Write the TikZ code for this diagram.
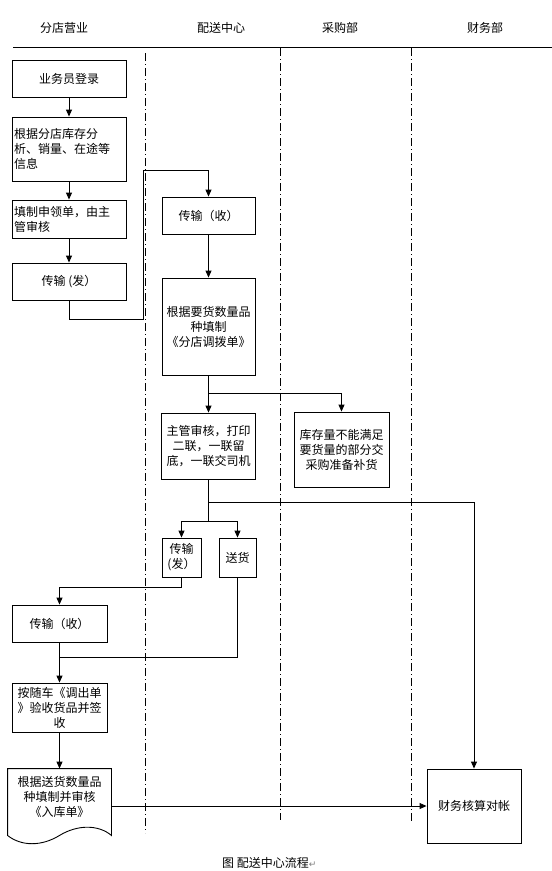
\documentclass[tikz,border=0pt]{standalone}
\usepackage{fontspec}
\setmainfont{Noto Sans CJK SC}
\newfontfamily\symfont{DejaVu Sans}
\usetikzlibrary{arrows.meta, calc}

\begin{document}
\begin{tikzpicture}[
    x=1pt, y=-1pt,
    box/.style={rectangle, draw=black, line width=0.9pt, align=center, inner sep=2pt, font={\fontsize{12}{15}\selectfont}},
    leftbox/.style={box, align=left, text width=110pt},
    arrow/.style={-{Triangle[length=7pt, width=6pt]}, line width=0.9pt},
    line/.style={line width=0.9pt},
    lane/.style={line width=0.8pt, dash pattern=on 8pt off 3pt on 1pt off 3pt},
    head/.style={font={\fontsize{12}{15}\selectfont}}
]

% Page
\fill[white] (0,0) rectangle (552,871);
\useasboundingbox (0,0) rectangle (552,871);

% Lanes
\node[head] (shop) at (64,28) {分店营业};
\node[head] (center) at (221,28) {配送中心};
\node[head] (purchase) at (340,28) {采购部};
\node[head] (account) at (485,28) {财务部};
\draw[line] (13,47) -- (552,47);
\draw[lane] (145,53) -- (145,833);
\draw[lane] (280,48) -- (280,820);
\draw[lane] (411,48) -- (411,823);

% Steps
\node[box, minimum width=114pt, minimum height=37pt] (login) at (69,78.5) {业务员登录};
\node[leftbox, minimum height=64pt] (analyse) at (69,149) {根据分店库存分\\析、销量、在途等\\信息};
\node[leftbox, minimum height=38pt] (apply) at (69,219) {填制申领单，由主\\管审核};
\node[box, minimum width=114pt, minimum height=37pt] (send1) at (69,281.5) {传输 (发）};
\node[box, minimum width=93pt, minimum height=37pt] (recv1) at (208.5,215.5) {传输（收）};
\node[box, minimum width=93pt, minimum height=97pt] (alloc) at (208.5,326.5) {根据要货数量品\\种填制\\《分店调拨单》};
\node[box, minimum width=94pt, minimum height=66pt] (check) at (208.5,446) {主管审核，打印\\二联，一联留\\底，一联交司机};
\node[box, minimum width=95pt, minimum height=75pt] (stock) at (341.5,449.5) {库存量不能满足\\要货量的部分交\\采购准备补货};
\node[box, minimum width=39pt, minimum height=39pt] (send2) at (181.5,557.5) {传输\\(发）};
\node[box, minimum width=37pt, minimum height=39pt] (deliver) at (237.5,557.5) {送货};
\node[box, minimum width=95pt, minimum height=37pt] (recv2) at (59.5,623.5) {传输（收）};
\node[box, minimum width=95pt, minimum height=49pt] (accept) at (59.5,707.5) {按随车《调出单\\》验收货品并签\\收};
\node[box, draw=none, minimum width=103pt, minimum height=56pt] (entry) at (59.5,797) {根据送货数量品\\种填制并审核\\《入库单》};
\node[box, minimum width=94pt, minimum height=74pt] (finance) at (474,806) {财务核算对帐};

% Document outline
\draw[line] (entry.north west) -- (entry.north east) -- ($(entry.south east)+(0,10)$)
    .. controls +(-13,-11) and +(18,-11) .. ($(entry.south)+(0,10)$)
    .. controls +(-18,11) and +(14,11) .. ($(entry.south west)+(0,10)$) -- cycle;

% Bends
\coordinate (c1) at (143,319);
\coordinate (c2) at (143,170);
\coordinate (c3) at (208.5,393);
\coordinate (c4) at (208.5,502);
\coordinate (c5) at (208.5,521);
\coordinate (c6) at (181.5,587);
\coordinate (c7) at (59.5,657);

% Flow
\draw[arrow] (login.south) -- (analyse.north);
\draw[arrow] (analyse.south) -- (apply.north);
\draw[arrow] (apply.south) -- (send1.north);
\draw[arrow] (send1.south) |- (c1) -- (c2) -| (recv1.north);
\draw[arrow] (recv1.south) -- (alloc.north);
\draw[arrow] (alloc.south) -- (check.north);
\draw[arrow] (alloc.south) -- (c3) -| (stock.north);
\draw[arrow] (check.south) -- (c4) -| (finance.north);
\draw[arrow] (c4) -- (c5) -| (send2.north);
\draw[arrow] (c5) -| (deliver.north);
\draw[arrow] (send2.south) -- (c6) -| (recv2.north);
\draw[arrow] (recv2.south) -- (accept.north);
\draw[line] (deliver.south) |- (c7);
\draw[arrow] (accept.south) -- (entry.north);
\draw[arrow] (entry.east |- finance.west) -- (finance.west);

% Caption
\node[anchor=west, inner sep=0pt, font={\fontsize{12}{15}\selectfont}] (caption) at (222,863) {图 配送中心流程{\symfont\fontsize{9}{10}\selectfont\color{gray}↵}};

\end{tikzpicture}
\end{document}
